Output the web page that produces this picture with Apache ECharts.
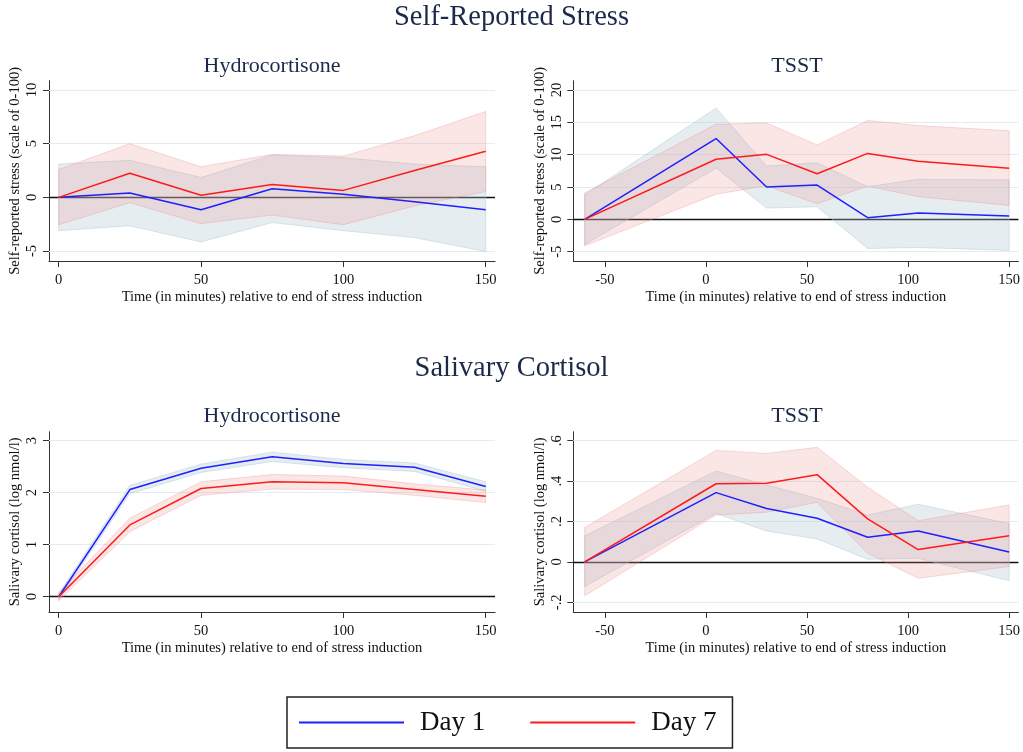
<!DOCTYPE html>
<html><head><meta charset="utf-8">
<script src="https://cdn.jsdelivr.net/npm/echarts@6/dist/echarts.min.js"></script>
<style>html,body{margin:0;padding:0;background:#fff}#c{width:1023px;height:752px}</style>
</head><body><div id="c"></div>
<script>
// ---- DATA ----
const hcTime = [0, 25, 50, 75, 100, 125, 150];
const tsstTime = [-60, 5, 30, 55, 80, 105, 150];
const hcXTicks = [0, 50, 100, 150];
const tsXTicks = [-50, 0, 50, 100, 150];

// Self-reported stress, Hydrocortisone
const srHcDay1   = [0, 0.4, -1.15, 0.8, 0.3, -0.4, -1.15];
const srHcDay1Lo = [-3.1, -2.65, -4.15, -2.35, -3.1, -3.75, -5.05];
const srHcDay1Hi = [3.1, 3.45, 1.85, 3.95, 3.7, 3.1, 2.85];
const srHcDay7   = [0, 2.25, 0.2, 1.2, 0.65, 2.5, 4.3];
const srHcDay7Lo = [-2.55, -0.5, -2.45, -1.65, -2.55, -0.8, 0.55];
const srHcDay7Hi = [2.6, 5.0, 2.85, 4.0, 3.85, 5.75, 8.0];
const srHcYTicks = [-5, 0, 5, 10];

// Self-reported stress, TSST
const srTsDay1   = [0, 12.5, 5.0, 5.3, 0.25, 0.97, 0.5];
const srTsDay1Lo = [-3.9, 7.9, 1.75, 1.95, -4.5, -4.35, -4.8];
const srTsDay1Hi = [3.8, 17.2, 8.25, 8.75, 5.05, 6.2, 6.1];
const srTsDay7   = [0, 9.3, 10.05, 7.05, 10.2, 8.97, 7.9];
const srTsDay7Lo = [-4.1, 3.9, 5.2, 2.4, 5.15, 3.5, 2.15];
const srTsDay7Hi = [4.1, 14.7, 14.9, 11.5, 15.3, 14.5, 13.7];
const srTsYTicks = [-5, 0, 5, 10, 15, 20];

// Salivary cortisol, Hydrocortisone
const coHcDay1   = [0, 2.06, 2.47, 2.69, 2.56, 2.49, 2.12];
const coHcDay1Lo = [-0.06, 1.98, 2.39, 2.60, 2.48, 2.41, 2.03];
const coHcDay1Hi = [0.06, 2.14, 2.55, 2.78, 2.64, 2.57, 2.21];
const coHcDay7   = [0, 1.38, 2.08, 2.21, 2.19, 2.06, 1.93];
const coHcDay7Lo = [-0.08, 1.25, 1.95, 2.07, 2.06, 1.95, 1.81];
const coHcDay7Hi = [0.08, 1.51, 2.21, 2.35, 2.32, 2.17, 2.05];
const coHcYTicks = [0, 1, 2, 3];

// Salivary cortisol, TSST
const coTsDay1   = [0, 0.343, 0.264, 0.216, 0.122, 0.153, 0.049];
const coTsDay1Lo = [-0.122, 0.24, 0.153, 0.114, 0.013, 0.018, -0.093];
const coTsDay1Hi = [0.129, 0.45, 0.381, 0.315, 0.232, 0.285, 0.19];
const coTsDay7   = [0, 0.387, 0.389, 0.432, 0.213, 0.061, 0.130];
const coTsDay7Lo = [-0.168, 0.232, 0.246, 0.295, 0.043, -0.081, -0.023];
const coTsDay7Hi = [0.17, 0.552, 0.537, 0.567, 0.37, 0.204, 0.282];
const coTsYTicks = [-0.2, 0, 0.2, 0.4, 0.6];

// ---- STYLE ----
const FONT = 'Liberation Serif';
const NAVY = '#1c2a4a';
const BLUE = '#1f1fff';
const RED = '#ff1a1a';
const AXIS = '#333';
const FS = 14.5;

const panels = [
  {left: 49, top: 80.7, width: 446, height: 180.3, xmin: -3.41, xmax: 153.26, ymin: -5.93, ymax: 10.87,
   t: hcTime, xt: hcXTicks, yt: srHcYTicks, yname: 'Self-reported stress (scale of 0-100)',
   d1: srHcDay1, d1lo: srHcDay1Lo, d1hi: srHcDay1Hi, d7: srHcDay7, d7lo: srHcDay7Lo, d7hi: srHcDay7Hi},
  {left: 573.3, top: 80.7, width: 446.7, height: 180.3, xmin: -65.63, xmax: 154.6, ymin: -6.44, ymax: 21.44,
   t: tsstTime, xt: tsXTicks, yt: srTsYTicks, yname: 'Self-reported stress (scale of 0-100)',
   d1: srTsDay1, d1lo: srTsDay1Lo, d1hi: srTsDay1Hi, d7: srTsDay7, d7lo: srTsDay7Lo, d7hi: srTsDay7Hi},
  {left: 49, top: 431.7, width: 446, height: 180.3, xmin: -3.41, xmax: 153.26, ymin: -0.294, ymax: 3.173,
   t: hcTime, xt: hcXTicks, yt: coHcYTicks, yname: 'Salivary cortisol (log nmol/l)',
   d1: coHcDay1, d1lo: coHcDay1Lo, d1hi: coHcDay1Hi, d7: coHcDay7, d7lo: coHcDay7Lo, d7hi: coHcDay7Hi},
  {left: 573.3, top: 431.7, width: 446.7, height: 180.3, xmin: -65.63, xmax: 154.6, ymin: -0.248, ymax: 0.6446,
   t: tsstTime, xt: tsXTicks, yt: coTsYTicks, yname: 'Salivary cortisol (log nmol/l)',
   d1: coTsDay1, d1lo: coTsDay1Lo, d1hi: coTsDay1Hi, d7: coTsDay7, d7lo: coTsDay7Lo, d7hi: coTsDay7Hi}
];

function fmtY(v) {
  if (Math.abs(v) < 1e-9) return '0';
  const s = String(Math.round(Math.abs(v) * 1000) / 1000).replace(/^0\./, '.');
  return (v < 0 ? '-' : '') + s;
}

function bandSeries(idx, t, lo, hi, fill, stroke) {
  return {
    type: 'custom', xAxisIndex: idx, yAxisIndex: idx, z: 2, silent: true,
    data: t.map((x, i) => [x, lo[i], hi[i]]),
    encode: {x: 0, y: [1, 2]},
    renderItem: function (params, api) {
      if (params.dataIndex !== 0) return null;
      const pts = [];
      for (let i = 0; i < t.length; i++) pts.push(api.coord([t[i], hi[i]]));
      for (let i = t.length - 1; i >= 0; i--) pts.push(api.coord([t[i], lo[i]]));
      return {type: 'polygon', shape: {points: pts}, style: {fill: fill, stroke: stroke, lineWidth: 1}};
    }
  };
}

const grid = [], xAxis = [], yAxis = [], series = [];
panels.forEach((p, k) => {
  grid.push({left: p.left, top: p.top, width: p.width, height: p.height});
  xAxis.push({
    type: 'value', gridIndex: k, min: p.xmin, max: p.xmax,
    name: 'Time (in minutes) relative to end of stress induction',
    nameLocation: 'middle', nameGap: 29,
    nameTextStyle: {fontFamily: FONT, fontSize: FS, color: '#111'},
    axisLine: {show: true, onZero: false, lineStyle: {color: AXIS, width: 1}},
    axisTick: {show: true, length: 6, customValues: p.xt, lineStyle: {color: AXIS}},
    axisLabel: {customValues: p.xt, fontFamily: FONT, fontSize: FS, color: '#111', margin: 12},
    splitLine: {show: false}
  });
  yAxis.push({
    type: 'value', gridIndex: k, min: p.ymin, max: p.ymax,
    name: p.yname, nameLocation: 'middle', nameGap: 26, nameRotate: 90,
    nameTextStyle: {fontFamily: FONT, fontSize: FS, color: '#111'},
    axisLine: {show: true, onZero: false, lineStyle: {color: AXIS, width: 1}},
    axisTick: {show: true, length: 6, customValues: p.yt, lineStyle: {color: AXIS}},
    axisLabel: {customValues: p.yt, rotate: 90, fontFamily: FONT, fontSize: FS, color: '#111', margin: 9,
      formatter: fmtY},
    splitLine: {show: false}
  });
  // helper series carrying grid lines and zero line
  series.push({
    type: 'line', name: 'helper' + k, xAxisIndex: k, yAxisIndex: k, z: 1, silent: true,
    data: p.t.map((x, i) => [x, p.d1[i]]), symbol: 'none',
    lineStyle: {opacity: 0, width: 0}, tooltip: {show: false},
    markLine: {
      silent: true, symbol: 'none', z: 1, animation: false,
      label: {show: false},
      data: p.yt.filter(v => Math.abs(v) > 1e-9).map(v => ({yAxis: v, lineStyle: {color: '#e2ecf1', width: 1, type: 'solid'}}))
        .concat([{yAxis: 0, lineStyle: {color: '#111', width: 1.3, type: 'solid'}}])
    }
  });
  series.push(bandSeries(k, p.t, p.d1lo, p.d1hi, 'rgba(176,200,212,0.32)', 'rgba(176,200,212,0.45)'));
  series.push(bandSeries(k, p.t, p.d7lo, p.d7hi, 'rgba(235,140,140,0.22)', 'rgba(235,140,140,0.32)'));
  series.push({type: 'line', name: 'Day 1', xAxisIndex: k, yAxisIndex: k, z: 3, symbol: 'none', silent: true,
    color: BLUE, lineStyle: {color: BLUE, width: 1.5}, data: p.t.map((x, i) => [x, p.d1[i]])});
  series.push({type: 'line', name: 'Day 7', xAxisIndex: k, yAxisIndex: k, z: 3, symbol: 'none', silent: true,
    color: RED, lineStyle: {color: RED, width: 1.5}, data: p.t.map((x, i) => [x, p.d7[i]])});
});

const title = [
  {text: 'Self-Reported Stress', left: 511.5, top: 3.5, textAlign: 'center', padding: 0,
   textStyle: {fontFamily: FONT, fontSize: 28.5, fontWeight: 'normal', color: NAVY}},
  {text: 'Salivary Cortisol', left: 511.5, top: 354.5, textAlign: 'center', padding: 0,
   textStyle: {fontFamily: FONT, fontSize: 28.5, fontWeight: 'normal', color: NAVY}},
  {text: 'Hydrocortisone', left: 272, top: 55, textAlign: 'center', padding: 0,
   textStyle: {fontFamily: FONT, fontSize: 22, fontWeight: 'normal', color: NAVY}},
  {text: 'TSST', left: 797, top: 55, textAlign: 'center', padding: 0,
   textStyle: {fontFamily: FONT, fontSize: 22, fontWeight: 'normal', color: NAVY}},
  {text: 'Hydrocortisone', left: 272, top: 405, textAlign: 'center', padding: 0,
   textStyle: {fontFamily: FONT, fontSize: 22, fontWeight: 'normal', color: NAVY}},
  {text: 'TSST', left: 797, top: 405, textAlign: 'center', padding: 0,
   textStyle: {fontFamily: FONT, fontSize: 22, fontWeight: 'normal', color: NAVY}}
];

const chart = echarts.init(document.getElementById('c'), null, {renderer: 'canvas'});
chart.setOption({
  animation: false,
  backgroundColor: '#fff',
  title: title,
  grid: grid, xAxis: xAxis, yAxis: yAxis, series: series,
  legend: {
    data: ['Day 1', 'Day 7'], left: 287, top: 697, orient: 'horizontal',
    icon: 'rect', itemWidth: 105, itemHeight: 2, itemGap: 45, selectedMode: false,
    padding: [12, 16, 12, 12], borderColor: '#222', borderWidth: 1.5,
    textStyle: {fontFamily: FONT, fontSize: 27, color: '#111', padding: [0, 0, 0, 11]}
  }
});
</script></body></html>
